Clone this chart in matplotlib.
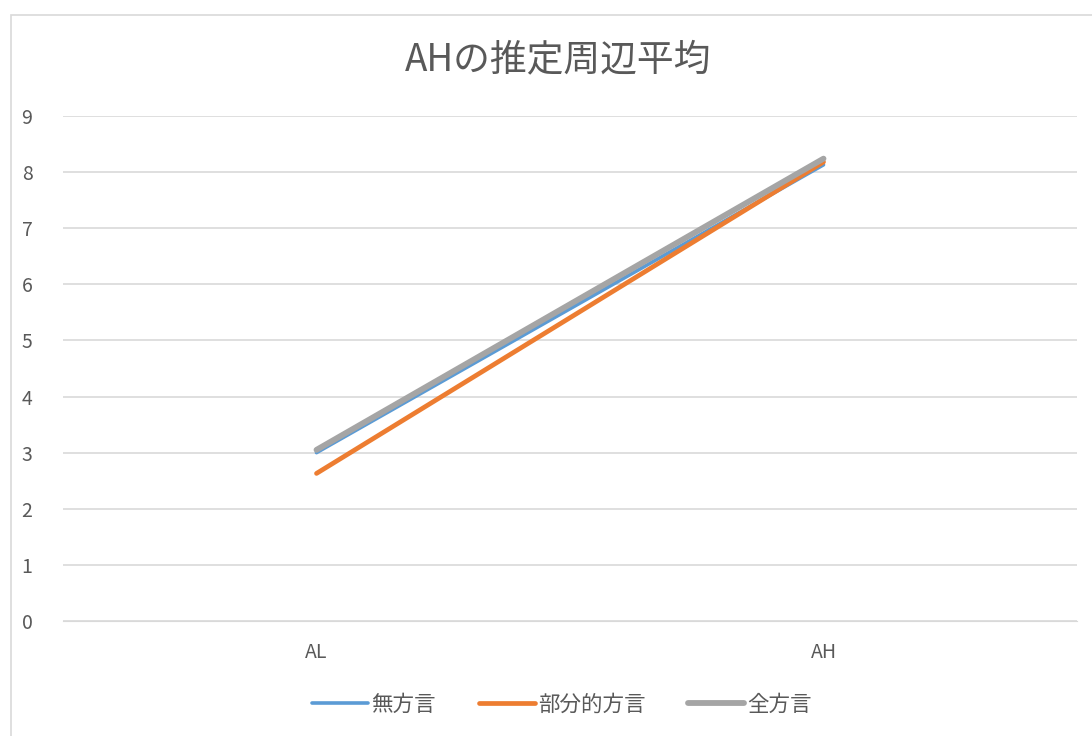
import matplotlib.pyplot as plt
from matplotlib.patches import Rectangle

plt.rcParams['font.family'] = ['Noto Sans CJK JP', 'DejaVu Sans']

categories = ['AL', 'AH']
series_names = ['無方言', '部分的方言', '全方言']
mushougen = [3.00, 8.13]
bubun = [2.63, 8.18]
zen = [3.05, 8.24]
y_ticks = [0, 1, 2, 3, 4, 5, 6, 7, 8, 9]

colors = ['#5b9bd5', '#ed7d31', '#a5a5a5']
widths = [2.6, 3.4, 4.2]
text_color = '#595959'

fig = plt.figure(figsize=(10.92, 7.36), dpi=100)
ax = fig.add_axes([63 / 1092, 1 - 621 / 736, 1014 / 1092, 505 / 736])

# outer chart frame
fig.patches.append(Rectangle((11 / 1092, -0.01), 1.1, 1 - 15 / 736 + 0.01,
                             transform=fig.transFigure, fill=False,
                             edgecolor='#d9d9d9', linewidth=1.2))

x = list(range(len(categories)))
for vals, name, c, lw in zip([mushougen, bubun, zen], series_names, colors, widths):
    ax.plot(x, vals, color=c, linewidth=lw, solid_capstyle='round', label=name)

ax.set_xlim(-0.5, 1.5)
ax.set_ylim(0, 9)
ax.set_yticks(y_ticks)
ax.set_xticks(x)
ax.set_xticklabels(categories)
ax.grid(axis='y', color='#d9d9d9', linewidth=1.2)
ax.set_axisbelow(True)
ax.tick_params(length=0, labelsize=14, labelcolor=text_color)
ax.tick_params(axis='y', pad=22)
ax.tick_params(axis='x', pad=15)
for s in ax.spines.values():
    s.set_visible(False)
ax.spines['bottom'].set_visible(True)
ax.spines['bottom'].set_color('#d9d9d9')

fig.text(558 / 1092, 1 - 60 / 736, 'AHの推定周辺平均', ha='center', va='center',
         fontsize=26.5, color=text_color)

fig.legend(loc='center', bbox_to_anchor=(562 / 1092, 1 - 705 / 736), ncol=3,
           frameon=False, fontsize=15.5, labelcolor=text_color, handlelength=2.6,
           handletextpad=0.15, columnspacing=2.0)

fig.savefig('out.png', dpi=100)
